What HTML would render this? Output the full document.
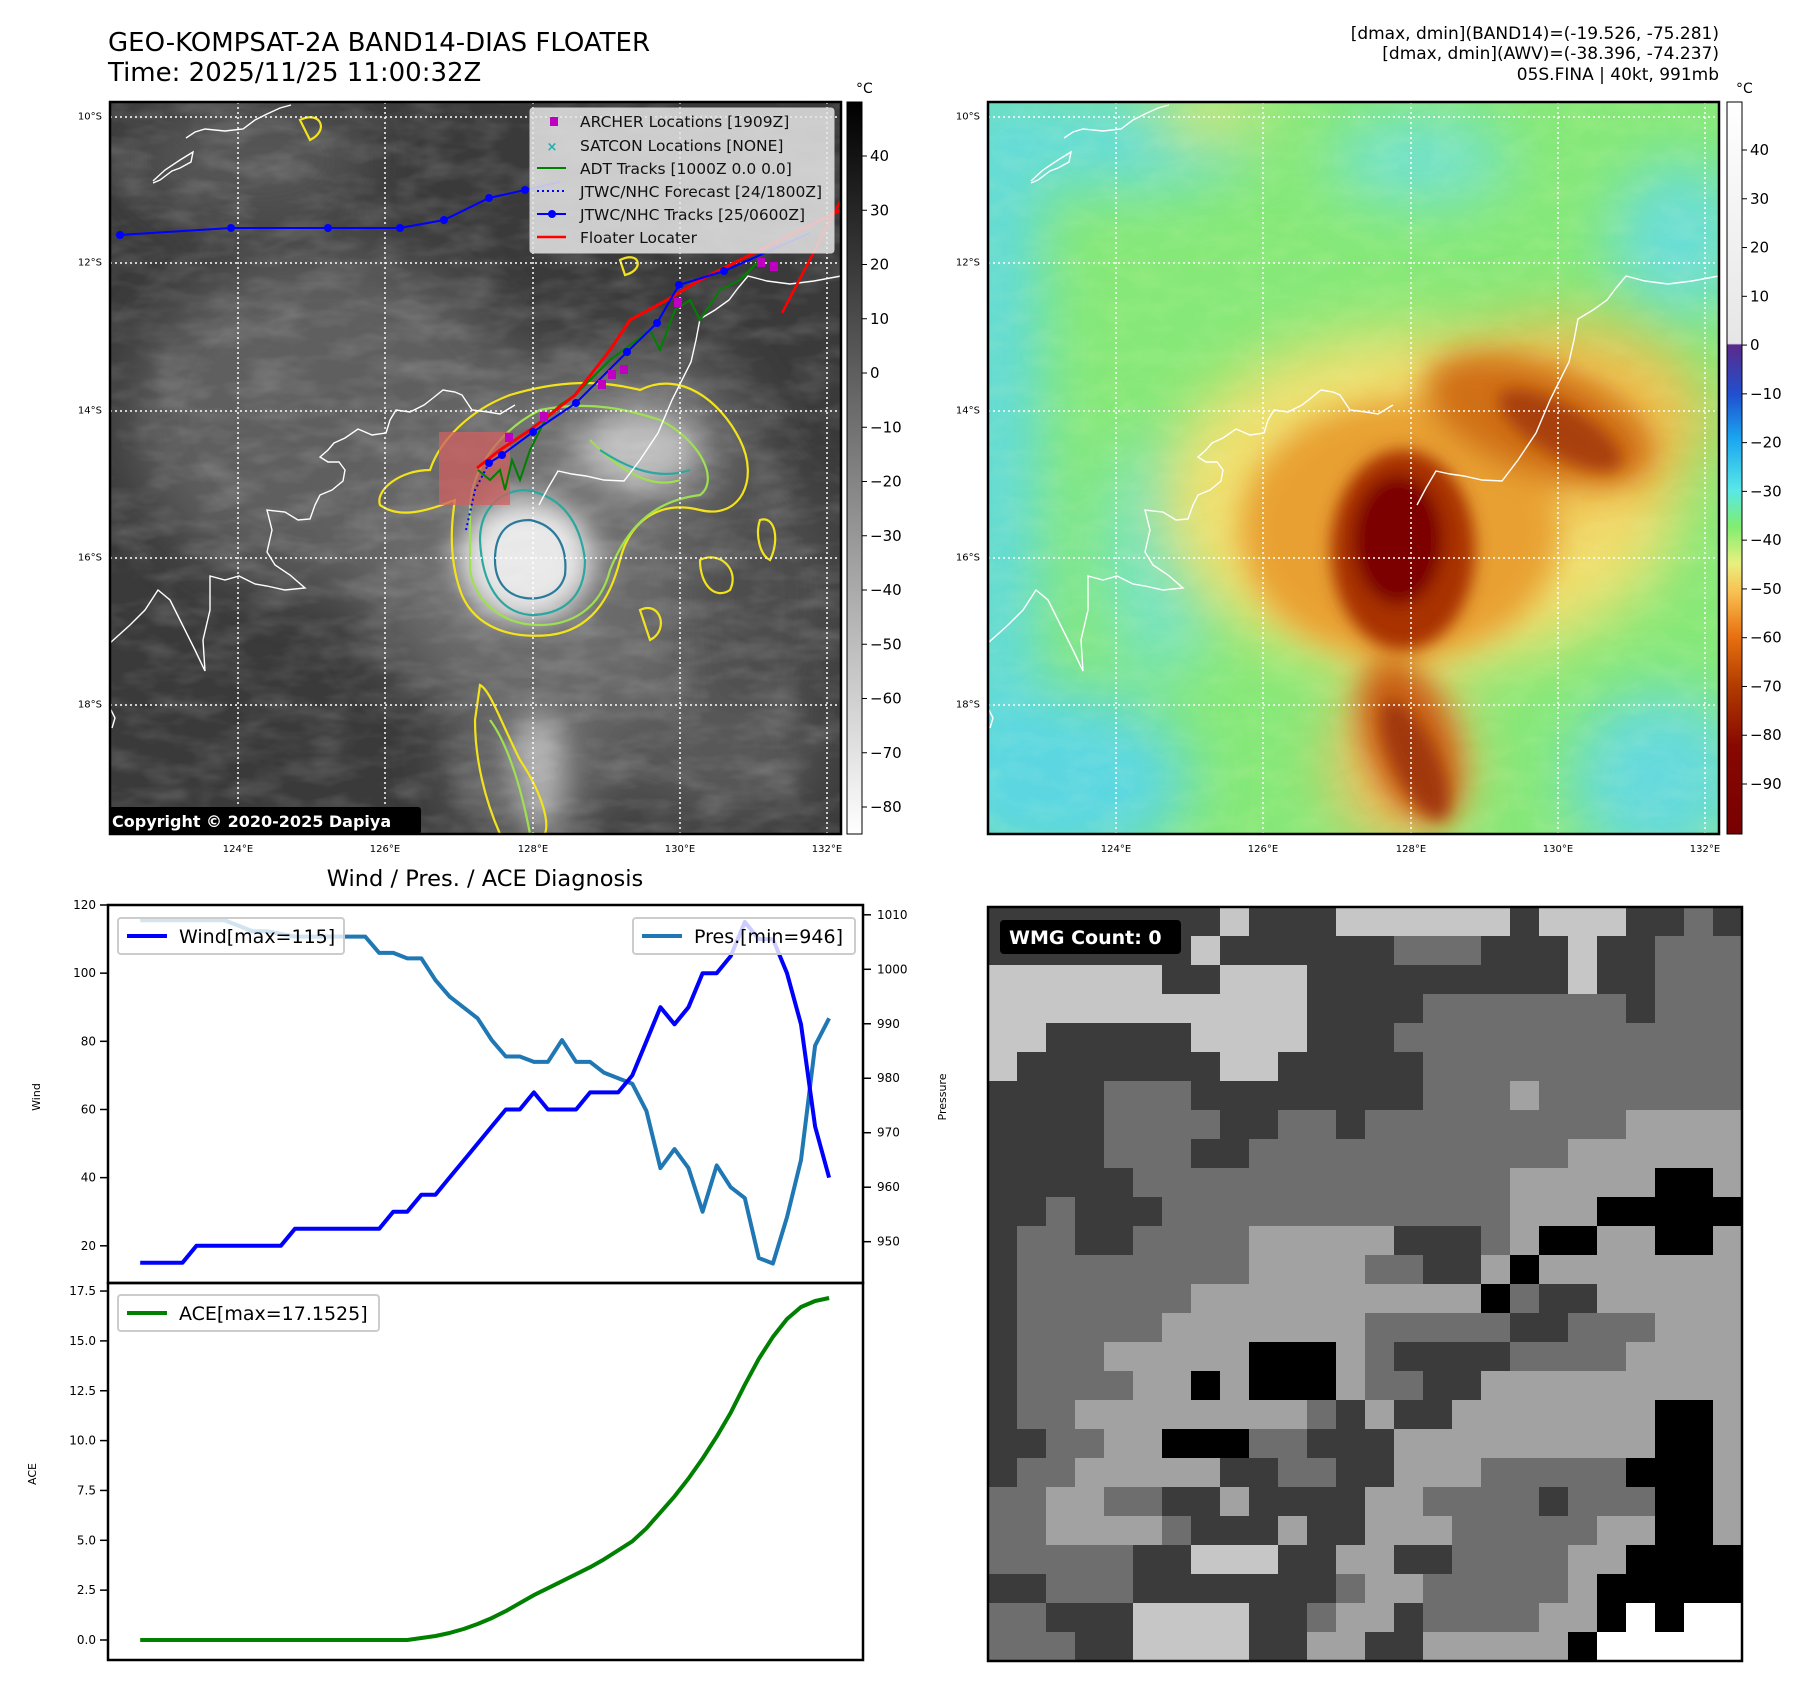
<!DOCTYPE html>
<html><head><meta charset="utf-8">
<style>
html,body{margin:0;padding:0;background:#fff;}
svg{display:block;font-family:"DejaVu Sans","Liberation Sans",sans-serif;}
</style></head>
<body>
<svg id="fig" width="1801" height="1690" viewBox="0 0 1801 1690" xmlns="http://www.w3.org/2000/svg">
<defs>
  <clipPath id="clipL"><rect x="110" y="102" width="731" height="732"/></clipPath>
  <clipPath id="clipR"><rect x="988" y="102" width="731" height="732"/></clipPath>
  <filter id="b30" x="-50%" y="-50%" width="200%" height="200%"><feGaussianBlur stdDeviation="30"/></filter>
  <filter id="b15" x="-50%" y="-50%" width="200%" height="200%"><feGaussianBlur stdDeviation="15"/></filter>
  <filter id="b8" x="-50%" y="-50%" width="200%" height="200%"><feGaussianBlur stdDeviation="8"/></filter>
  <filter id="noise" x="0" y="0" width="100%" height="100%">
    <feTurbulence type="fractalNoise" baseFrequency="0.02 0.05" numOctaves="3" seed="4"/>
    <feColorMatrix type="matrix" values="0 0 0 0 1  0 0 0 0 1  0 0 0 0 1  0.9 0 0 0 -0.35"/>
  </filter>
  <filter id="noise2" x="0" y="0" width="100%" height="100%">
    <feTurbulence type="fractalNoise" baseFrequency="0.03 0.06" numOctaves="3" seed="9"/>
    <feColorMatrix type="matrix" values="0 0 0 0 1  0 0 0 0 1  0 0 0 0 0.6  0.8 0 0 0 -0.3"/>
  </filter>
  <linearGradient id="grayCb" x1="0" y1="0" x2="0" y2="1">
    <stop offset="0" stop-color="#000"/><stop offset="1" stop-color="#fff"/>
  </linearGradient>
  <linearGradient id="awvCb" x1="0" y1="102" x2="0" y2="834" gradientUnits="userSpaceOnUse">
    <stop offset="0" stop-color="#ffffff"/>
    <stop offset="0.33" stop-color="#e6e6e6"/>
    <stop offset="0.332" stop-color="#5a2a8a"/>
    <stop offset="0.40" stop-color="#2050d0"/>
    <stop offset="0.46" stop-color="#1aa6f0"/>
    <stop offset="0.53" stop-color="#58e8e8"/>
    <stop offset="0.58" stop-color="#80ee70"/>
    <stop offset="0.63" stop-color="#e8f080"/>
    <stop offset="0.67" stop-color="#f8c050"/>
    <stop offset="0.73" stop-color="#e87010"/>
    <stop offset="0.80" stop-color="#b03a00"/>
    <stop offset="0.88" stop-color="#880800"/>
    <stop offset="1" stop-color="#780000"/>
  </linearGradient>
  <path id="coast" fill="none" stroke="#fff" stroke-width="1.4" d="M110,643 L130,625 L145,610 L158,590 L170,600 L180,620 L195,650 L205,671 L203,640 L210,610 L210,576 L225,580 L239,576 L255,584 L267,586 L285,590 L305,588 L290,575 L275,565 L267,552 L272,530 L267,510 L285,512 L298,520 L310,519 L315,505 L320,495 L332,490 L343,481 L345,470 L339,462 L328,462 L320,457 L328,450 L334,443 L345,438 L358,429 L372,435 L386,433 L390,420 L396,410 L410,412 L424,405 L433,398 L443,390 L455,392 L462,395 L468,404 L472,410 L488,412 L500,414 L515,405 M539,505 L548,488 L558,471 L572,474 L586,476 L604,480 L624,481 L640,460 L658,433 L672,400 L691,362 L696,340 L700,319 L715,310 L729,300 L738,288 L748,276 L767,281 L790,284 L814,281 L841,276 M153,181 L165,170 L180,160 L193,152 L191,162 L180,168 L172,171 L160,180 L153,183 M186,138 L195,132 L205,129 L225,131 L243,129 L255,120 L267,114 L280,108 L291,105 M110,708 L115,718 L112,728"/>
</defs>

<!-- Titles -->
<text x="108" y="51" font-size="26">GEO-KOMPSAT-2A BAND14-DIAS FLOATER</text>
<text x="108" y="81" font-size="26">Time: 2025/11/25 11:00:32Z</text>
<g font-size="17" text-anchor="end">
  <text x="1719" y="39">[dmax, dmin](BAND14)=(-19.526, -75.281)</text>
  <text x="1719" y="59">[dmax, dmin](AWV)=(-38.396, -74.237)</text>
  <text x="1719" y="80">05S.FINA | 40kt, 991mb</text>
</g>

<!-- LEFT MAP -->
<g clip-path="url(#clipL)">
  <rect x="110" y="102" width="731" height="732" fill="#3a3a3a"/>
  <g filter="url(#b30)">
    <ellipse cx="330" cy="420" rx="200" ry="170" fill="#5e5e5e"/>
    <ellipse cx="250" cy="160" rx="120" ry="60" fill="#575757"/>
    <ellipse cx="560" cy="560" rx="200" ry="170" fill="#6a6a6a"/>
    <ellipse cx="620" cy="440" rx="130" ry="90" fill="#707070"/>
    <ellipse cx="530" cy="760" rx="80" ry="90" fill="#6a6a6a"/>
    <ellipse cx="760" cy="600" rx="80" ry="140" fill="#4d4d4d"/>
    <ellipse cx="720" cy="760" rx="100" ry="60" fill="#5a5a5a"/>
  </g>
  <g filter="url(#b15)">
    <ellipse cx="526" cy="560" rx="68" ry="62" fill="#e8e8e8"/>
    <ellipse cx="640" cy="450" rx="60" ry="40" fill="#bdbdbd"/>
    <ellipse cx="540" cy="770" rx="25" ry="60" fill="#b0b0b0"/>
  </g>
  <rect x="110" y="102" width="731" height="732" filter="url(#noise)" opacity="0.35"/>
  <!-- contours -->
  <g fill="none" stroke-width="2.2">
    <path stroke="#f3e31a" d="M455,500 C430,510 400,520 380,505 C375,490 400,470 430,470 C440,440 470,410 510,395 C560,380 600,380 640,390 C680,370 720,400 740,440 C760,480 740,520 700,510 C660,500 630,520 620,560 C610,600 590,630 550,635 C500,640 470,620 460,590 C450,560 450,530 455,500Z"/>
    <path stroke="#9ee050" d="M470,510 C470,470 500,430 540,410 C590,400 630,410 660,420 C700,440 720,480 700,495 C660,500 630,520 610,570 C600,610 570,625 540,625 C500,625 475,600 470,570Z"/>
    <path stroke="#2aa8a0" d="M480,540 C480,505 505,490 525,490 C560,495 580,520 585,560 C585,600 560,615 530,615 C500,612 482,585 480,540Z"/>
    <path stroke="#2a7a9a" d="M495,560 C495,530 510,520 530,520 C555,525 568,545 565,575 C560,595 540,600 525,598 C505,595 495,580 495,560Z"/>
    <path stroke="#f3e31a" d="M480,685 C490,690 500,720 520,760 C540,790 550,820 545,834 L500,834 C485,800 475,760 475,720Z"/>
    <path stroke="#9ee050" d="M490,720 C505,740 520,780 530,834 M590,440 C620,470 650,490 680,480"/>
    <path stroke="#2aa8a0" d="M600,450 C630,470 660,480 690,470"/>
    <path stroke="#f3e31a" d="M700,560 C720,550 740,570 730,590 C715,600 700,585 700,560Z M760,520 C775,515 780,540 770,560 C760,555 755,535 760,520Z M640,610 C660,600 670,630 650,640Z M300,120 C320,110 330,130 310,140Z M620,260 C640,250 645,270 625,275Z"/>
  </g>
  <rect x="439" y="432" width="71" height="73" fill="#d06060" opacity="0.75"/>
  <!-- grid lines -->
  <g stroke="#fff" stroke-width="1.5" stroke-dasharray="2,3">
    <line x1="238" y1="102" x2="238" y2="834"/><line x1="385" y1="102" x2="385" y2="834"/>
    <line x1="533" y1="102" x2="533" y2="834"/><line x1="680" y1="102" x2="680" y2="834"/>
    <line x1="827" y1="102" x2="827" y2="834"/>
    <line x1="110" y1="117" x2="841" y2="117"/><line x1="110" y1="263" x2="841" y2="263"/>
    <line x1="110" y1="411" x2="841" y2="411"/><line x1="110" y1="558" x2="841" y2="558"/>
    <line x1="110" y1="705" x2="841" y2="705"/>
  </g>
  <use href="#coast"/>
  <!-- tracks -->
  <polyline fill="none" stroke="#008000" stroke-width="2" points="478,470 490,480 500,470 505,490 512,460 520,480 530,450 545,420 560,405 575,395 590,380 610,360 630,345 650,330 660,350 675,310 690,300 700,320 720,290 740,280 760,260"/>
  <polyline fill="none" stroke="#0000ff" stroke-width="2" stroke-dasharray="2,3" points="466,530 475,490 489,463"/>
  <polyline fill="none" stroke="#ff0000" stroke-width="3" points="477,468 500,450 530,430 575,395 610,350 630,320 667,300 700,280 760,250 841,210"/>
  <line x1="782" y1="313" x2="841" y2="200" stroke="#ff0000" stroke-width="2.5"/>
  <g fill="#0000ff">
    <polyline fill="none" stroke="#0000ff" stroke-width="2" points="120,235 231,228 328,228 400,228 444,220 489,198 525,190 560,182"/>
    <polyline fill="none" stroke="#0000ff" stroke-width="2" points="489,463 502,455 533,432 576,403 627,352 657,323 679,285 724,271 810,233"/>
    <circle cx="120" cy="235" r="4"/><circle cx="231" cy="228" r="4"/><circle cx="328" cy="228" r="4"/><circle cx="400" cy="228" r="4"/><circle cx="444" cy="220" r="4"/><circle cx="489" cy="198" r="4"/><circle cx="525" cy="190" r="4"/>
    <circle cx="489" cy="463" r="4"/><circle cx="502" cy="455" r="4"/><circle cx="533" cy="432" r="4"/><circle cx="576" cy="403" r="4"/><circle cx="627" cy="352" r="4"/><circle cx="657" cy="323" r="4"/><circle cx="679" cy="285" r="4"/><circle cx="724" cy="271" r="4"/>
  </g>
  <g fill="#c000c0">
    <rect x="505" y="433" width="8" height="9"/><rect x="540" y="412" width="8" height="9"/><rect x="598" y="380" width="8" height="9"/><rect x="608" y="370" width="8" height="9"/><rect x="620" y="365" width="8" height="9"/><rect x="674" y="298" width="8" height="9"/><rect x="757" y="258" width="8" height="9"/><rect x="770" y="262" width="8" height="9"/>
  </g>
  <!-- legend -->
  <g>
    <rect x="530" y="108" width="304" height="145" rx="3" fill="#e6e6e6" fill-opacity="0.85" stroke="#ccc"/>
    <rect x="550" y="117" width="8" height="9" fill="#c000c0"/>
    <text x="552" y="151" font-size="13" fill="#20b0b0" text-anchor="middle" font-weight="bold">×</text>
    <line x1="537" y1="168" x2="566" y2="168" stroke="#008000" stroke-width="2"/>
    <line x1="537" y1="191" x2="566" y2="191" stroke="#0000ff" stroke-width="2" stroke-dasharray="2,3"/>
    <line x1="537" y1="214" x2="566" y2="214" stroke="#0000ff" stroke-width="2"/><circle cx="552" cy="214" r="4" fill="#0000ff"/>
    <line x1="537" y1="237" x2="566" y2="237" stroke="#ff0000" stroke-width="2.5"/>
    <g font-size="15.5" fill="#111">
      <text x="580" y="127">ARCHER Locations [1909Z]</text>
      <text x="580" y="151">SATCON Locations [NONE]</text>
      <text x="580" y="174">ADT Tracks [1000Z 0.0 0.0]</text>
      <text x="580" y="197">JTWC/NHC Forecast [24/1800Z]</text>
      <text x="580" y="220">JTWC/NHC Tracks [25/0600Z]</text>
      <text x="580" y="243">Floater Locater</text>
    </g>
  </g>
  <rect x="108" y="807" width="313" height="27" rx="3" fill="#000"/>
  <text x="112" y="827" font-size="16" font-weight="bold" fill="#fff">Copyright © 2020-2025 Dapiya</text>
</g>
<rect x="110" y="102" width="731" height="732" fill="none" stroke="#000" stroke-width="2.5"/>

<!-- RIGHT MAP -->
<g clip-path="url(#clipR)">
  <rect x="988" y="102" width="731" height="732" fill="#86e878"/>
  <g filter="url(#b30)" opacity="0.85">
    <rect x="950" y="80" width="90" height="780" fill="#5cd8ee"/>
    <ellipse cx="1110" cy="140" rx="140" ry="50" fill="#60daea"/>
    <ellipse cx="1420" cy="160" rx="90" ry="45" fill="#6ee0e0"/>
    <ellipse cx="1680" cy="240" rx="70" ry="80" fill="#66dce6"/>
    <ellipse cx="1060" cy="780" rx="130" ry="90" fill="#55d4f4"/>
    <ellipse cx="1660" cy="780" rx="90" ry="90" fill="#60d8ee"/>
    <ellipse cx="1160" cy="560" rx="60" ry="120" fill="#72e2d0"/>
  </g>
  <g filter="url(#b30)">
    <ellipse cx="1420" cy="500" rx="260" ry="170" fill="#f0e070"/>
    <ellipse cx="1560" cy="420" rx="150" ry="100" fill="#f0c050"/>
    <ellipse cx="1400" cy="760" rx="70" ry="90" fill="#f0c060"/>
    <ellipse cx="1210" cy="115" rx="60" ry="30" fill="#d8e870"/>
  </g>
  <rect x="988" y="102" width="731" height="732" filter="url(#noise2)" opacity="0.25"/>
  <g filter="url(#b15)">
    <ellipse cx="1400" cy="530" rx="160" ry="130" fill="#e8a030"/>
    <ellipse cx="1540" cy="420" rx="120" ry="55" fill="#d07018" transform="rotate(20 1540 420)"/>
    <ellipse cx="1410" cy="740" rx="45" ry="85" fill="#c86018" transform="rotate(-20 1410 740)"/>
  </g>
  <g filter="url(#b8)">
    <ellipse cx="1403" cy="550" rx="72" ry="100" fill="#a83000"/>
    <ellipse cx="1398" cy="540" rx="45" ry="65" fill="#7c0400"/>
    <ellipse cx="1560" cy="430" rx="70" ry="25" fill="#a84008" transform="rotate(30 1560 430)"/>
    <ellipse cx="1415" cy="760" rx="22" ry="65" fill="#a03808" transform="rotate(-25 1415 760)"/>
  </g>
  <g stroke="#fff" stroke-width="1.5" stroke-dasharray="2,3">
    <line x1="1116" y1="102" x2="1116" y2="834"/><line x1="1263" y1="102" x2="1263" y2="834"/>
    <line x1="1411" y1="102" x2="1411" y2="834"/><line x1="1558" y1="102" x2="1558" y2="834"/>
    <line x1="1705" y1="102" x2="1705" y2="834"/>
    <line x1="988" y1="117" x2="1719" y2="117"/><line x1="988" y1="263" x2="1719" y2="263"/>
    <line x1="988" y1="411" x2="1719" y2="411"/><line x1="988" y1="558" x2="1719" y2="558"/>
    <line x1="988" y1="705" x2="1719" y2="705"/>
  </g>
  <use href="#coast" transform="translate(878,0)"/>
</g>
<rect x="988" y="102" width="731" height="732" fill="none" stroke="#000" stroke-width="2.5"/>

<!-- colorbars -->
<rect x="847" y="102" width="15" height="732" fill="url(#grayCb)" stroke="#000" stroke-width="1"/>
<rect x="1727" y="102" width="15" height="732" fill="url(#awvCb)" stroke="#000" stroke-width="1"/>
<text x="856" y="93" font-size="14">°C</text>
<text x="1736" y="93" font-size="14">°C</text>
<g id="cbTicks" font-size="15"></g>

<!-- map axis labels -->
<g id="mapLabels" font-size="10"></g>

<!-- WIND / PRES / ACE -->
<text x="485" y="886" font-size="22.5" text-anchor="middle">Wind / Pres. / ACE Diagnosis</text>
<g id="chart"></g>

<!-- WMG panel -->
<g id="wmg"></g>
</svg>

<script>
// ---- chart data ----
var steps = [0,1,2,3,4,5,6,7,8,9,10,11,12,13,14,15,16,17,18,19,20,21,22,23,24,25,26,27,28,29,30,31,32,33,34,35,36,37,38,39,40,41,42,43,44,45,46,47,48,49];
var windValues = [15,15,15,15,20,20,20,20,20,20,20,25,25,25,25,25,25,25,30,30,35,35,40,45,50,55,60,60,65,60,60,60,65,65,65,70,80,90,85,90,100,100,105,115,110,110,100,85,55,40];
var presValues = [1009,1009,1009,1009,1009,1009,1009,1008,1007,1007,1006.5,1006,1006,1006,1006,1006,1006,1003,1003,1002,1002,998,995,993,991,987,984,984,983,983,987,983,983,981,980,979,974,963.5,967,963.5,955.5,964,960,958,947,946,954.5,965,986,991];
var aceValues = [0,0,0,0,0,0,0,0,0,0,0,0,0,0,0,0,0,0,0,0,0.1,0.2,0.35,0.55,0.8,1.1,1.45,1.85,2.25,2.6,2.95,3.3,3.65,4.05,4.5,4.95,5.6,6.4,7.2,8.1,9.1,10.2,11.4,12.8,14.1,15.2,16.1,16.7,17.0,17.15];
var windTicks = [20,40,60,80,100,120];
var presTicks = [950,960,970,980,990,1000,1010];
var aceTicks = [0,2.5,5,7.5,10,12.5,15,17.5];
var aceTickLabels = ["0.0","2.5","5.0","7.5","10.0","12.5","15.0","17.5"];
var irCbTicks = [40,30,20,10,0,-10,-20,-30,-40,-50,-60,-70,-80];
var awvCbTicks = [40,30,20,10,0,-10,-20,-30,-40,-50,-60,-70,-80,-90];
var lonLabels = ["124°E","126°E","128°E","130°E","132°E"];
var latLabels = ["10°S","12°S","14°S","16°S","18°S"];
var wmgRows = [
"DDDDDDDDWDDDWWWWWWDWWWDDMD",
"DDDDDDDWDDDDDDMMMDDDWDDMMM",
"WWWWWWDDWWWDDDDDDDDDWDDMMM",
"WWWWWWWWWWWDDDDMMMMMMMDMMM",
"WWDDDDDWWWWDDDMMMMMMMMMMMM",
"WDDDDDDDWWDDDDDMMMMMMMMMMM",
"DDDDMMMDDDDDDDDMMMLMMMMMMM",
"DDDDMMMMDDMMDMMMMMMMMMLLLL",
"DDDDMMMDDMMMMMMMMMMMLLLLLL",
"DDDDDMMMMMMMMMMMMMLLLLLKKL",
"DDMDDDMMMMMMMMMMMMLLLKKKKK",
"DMMDDMMMMLLLLLDDDMLKKLLKKL",
"DMMMMMMMMLLLLMMDDLKLLLLLLL",
"DMMMMMMLLLLLLLLLLKMDDLLLLL",
"DMMMMMLLLLLLLMMMMMDDMMMLLL",
"DMMMLLLLLKKKLMDDDDMMMMLLLL",
"DMMMMLLKLKKKLMMDDLLLLLLLLL",
"DMMLLLLLLLLMDLDDLLLLLLLKKL",
"DDMMLLKKKMMDDDLLLLLLLLLKKL",
"DMMLLLLLDDMMDDLLLMMMMMKKKL",
"MMLLMMDDLDDDDLLMMMMDMMMKKL",
"MMLLLLMDDDLDDLLLMMMMMLLKKL",
"MMMMMDDWWWDDLLDDMMMMLLKKKK",
"DDMMMDDDDDDDMLLMMMMMLKKKKK",
"MMDDDWWWWDDMLLDMMMMLLK_K__",
"MMMDDWWWWDDLLDDLLLLLK_____"];

var NS = "http://www.w3.org/2000/svg";
function mk(tag, attrs, parent){ var e=document.createElementNS(NS,tag); for(var k in attrs) e.setAttribute(k,attrs[k]); if(parent) parent.appendChild(e); return e; }

// axes geometry
var AX_L=108, AX_R=863, W_TOP=905, W_BOT=1283, A_BOT=1660;
function xS(i){ return AX_L + (i + 2.29) * 14.06; }
function yWind(v){ return W_TOP + (120 - v) * 3.408; }
function yPres(v){ return W_TOP + (1011.8 - v) * 5.448; }
function yAce(v){ return 1640 - v * 19.94; }

var chart = document.getElementById('chart');
function tickLabel(x,y,txt,anchor,size,name){
  var t = mk('text',{x:x,y:y,'font-size':size,'text-anchor':anchor,'dominant-baseline':'central'},chart);
  t.textContent = txt;
  
  
  return t;
}
windTicks.forEach(function(v){
  var y=yWind(v);
  var l=mk('line',{x1:AX_L-8,y1:y,x2:AX_L,y2:y,stroke:'#000','stroke-width':1.5},chart);
  
  
  tickLabel(AX_L-12,y,String(v),'end',12,'wind-tick-label');
});
presTicks.forEach(function(v){
  var y=yPres(v);
  var l=mk('line',{x1:AX_R,y1:y,x2:AX_R+8,y2:y,stroke:'#000','stroke-width':1.5},chart);
  
  
  tickLabel(AX_R+14,y,String(v),'start',12,'pressure-tick-label');
});
aceTicks.forEach(function(v,k){
  var y=yAce(v);
  var l=mk('line',{x1:AX_L-8,y1:y,x2:AX_L,y2:y,stroke:'#000','stroke-width':1.5},chart);
  
  
  tickLabel(AX_L-12,y,aceTickLabels[k],'end',12,'ace-tick-label');
});
var yt1=mk('text',{x:0,y:0,'font-size':11,'text-anchor':'middle',transform:'translate(40,1097) rotate(-90)'},chart); yt1.textContent='Wind';


var yt2=mk('text',{x:0,y:0,'font-size':11,'text-anchor':'middle',transform:'translate(946,1097) rotate(-90)'},chart); yt2.textContent='Pressure';


var yt3=mk('text',{x:0,y:0,'font-size':11,'text-anchor':'middle',transform:'translate(36,1474) rotate(-90)'},chart); yt3.textContent='ACE';



function pts(arr, yf){ return arr.map(function(v,i){ return xS(steps[i]).toFixed(1)+','+yf(v).toFixed(1); }).join(' '); }
var pl1=mk('polyline',{points:pts(presValues,yPres),fill:'none',stroke:'#1f77b4','stroke-width':4,'stroke-linejoin':'round'},chart);


var pl2=mk('polyline',{points:pts(windValues,yWind),fill:'none',stroke:'#0000ff','stroke-width':4,'stroke-linejoin':'round'},chart);


var pl3=mk('polyline',{points:pts(aceValues,yAce),fill:'none',stroke:'#008000','stroke-width':4,'stroke-linejoin':'round'},chart);



var f1=mk('rect',{x:AX_L,y:W_TOP,width:AX_R-AX_L,height:W_BOT-W_TOP,fill:'none',stroke:'#000','stroke-width':2.5},chart);


var f2=mk('rect',{x:AX_L,y:W_BOT,width:AX_R-AX_L,height:A_BOT-W_BOT,fill:'none',stroke:'#000','stroke-width':2.5},chart);



function legend(x,y,w,color,label,name){
  var g=mk('g',{},chart);
  
  
  mk('rect',{x:x,y:y,width:w,height:36,rx:3,fill:'#fff','fill-opacity':0.8,stroke:'#ccc','stroke-width':2},g);
  mk('line',{x1:x+9,y1:y+18,x2:x+49,y2:y+18,stroke:color,'stroke-width':4},g);
  var t=mk('text',{x:x+61,y:y+25,'font-size':19},g); t.textContent=label;
}
legend(118,918,226,'#0000ff','Wind[max=115]','wind-legend');
legend(633,918,222,'#1f77b4','Pres.[min=946]','pressure-legend');
legend(118,1295,261,'#008000','ACE[max=17.1525]','ace-legend');

var cbg=document.getElementById('cbTicks');
irCbTicks.forEach(function(v){
  var y=156+(40-v)*5.425;
  mk('line',{x1:862,y1:y,x2:867,y2:y,stroke:'#000'},cbg);
  var t=mk('text',{x:870,y:y,'dominant-baseline':'central'},cbg); t.textContent=String(v).replace('-','\u2212');
  
  
});
awvCbTicks.forEach(function(v){
  var y=150+(40-v)*4.877;
  mk('line',{x1:1742,y1:y,x2:1747,y2:y,stroke:'#000'},cbg);
  var t=mk('text',{x:1750,y:y,'dominant-baseline':'central'},cbg); t.textContent=String(v).replace('-','\u2212');
  
  
});

var ml=document.getElementById('mapLabels');
var lonX=[238,385,533,680,827], latY=[117,263,411,558,705];
[0,878].forEach(function(off){
  lonLabels.forEach(function(s,k){
    var t=mk('text',{x:lonX[k]+off,y:852,'text-anchor':'middle'},ml); t.textContent=s;
    
    
  });
  latLabels.forEach(function(s,k){
    var t=mk('text',{x:102+off,y:latY[k],'text-anchor':'end','dominant-baseline':'central'},ml); t.textContent=s;
    
    
  });
});

var wg=document.getElementById('wmg');
var colors={D:'#3b3b3b',M:'#6e6e6e',L:'#a2a2a2',W:'#c6c6c6',K:'#000000',_:'#ffffff'};
var PX=988, PY=907, PS=754, cs=PS/26;
wmgRows.forEach(function(row,r){
  for(var c=0;c<row.length;c++){
    var cell=mk('rect',{x:(PX+c*cs).toFixed(2),y:(PY+r*cs).toFixed(2),width:(cs+0.6).toFixed(2),height:(cs+0.6).toFixed(2),fill:colors[row[c]]},wg);
    
    
  }
});
var fr=mk('rect',{x:PX,y:PY,width:PS,height:PS,fill:'none',stroke:'#000','stroke-width':2.5},wg);


var lb=mk('rect',{x:1000,y:920,width:181,height:34,rx:4,fill:'#000'},wg);


var lt=mk('text',{x:1009,y:944,'font-size':19,'font-weight':'bold',fill:'#fff'},wg); lt.textContent='WMG Count: 0';


</script>
</body></html>
